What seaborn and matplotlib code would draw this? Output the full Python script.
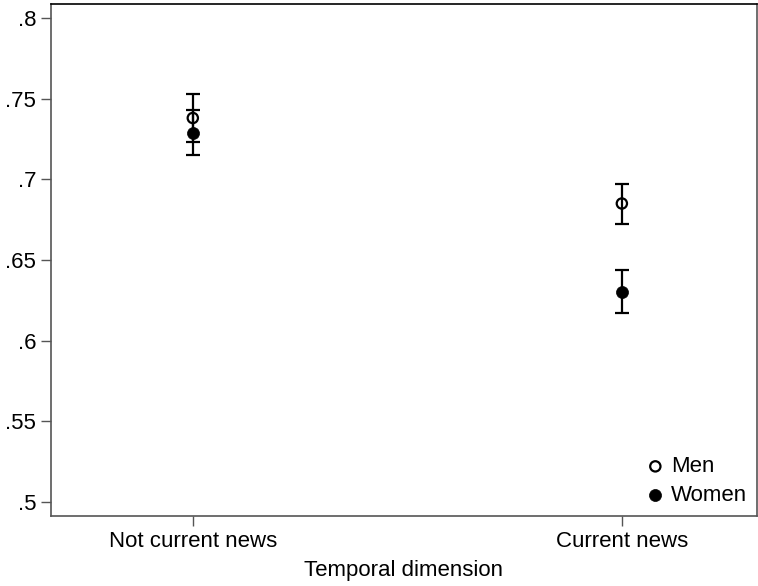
import pandas as pd
import matplotlib.pyplot as plt
import seaborn as sns

categories = ["Not current news", "Current news"]
men_mean = [0.738, 0.685]
men_low = [0.723, 0.672]
men_high = [0.753, 0.697]
women_mean = [0.729, 0.630]
women_low = [0.715, 0.617]
women_high = [0.743, 0.644]

def build_frame():
    rows = []
    for i, cat in enumerate(categories):
        rows.append(dict(pos=i, group="Men", mean=men_mean[i], low=men_low[i], high=men_high[i]))
        rows.append(dict(pos=i, group="Women", mean=women_mean[i], low=women_low[i], high=women_high[i]))
    return pd.DataFrame(rows)

def main():
    sns.set_theme(style="white")
    plt.rcParams["font.family"] = ["Liberation Sans", "DejaVu Sans"]
    plt.rcParams["text.color"] = "black"
    plt.rcParams["axes.labelcolor"] = "black"
    df = build_frame()

    fig = plt.figure(figsize=(7.58, 5.86), dpi=100)
    ax = fig.add_axes([0.067, 0.1195, 0.9317, 0.8732])

    for _, r in df.iterrows():
        ax.errorbar(r["pos"], r["mean"],
                    yerr=[[r["mean"] - r["low"]], [r["high"] - r["mean"]]],
                    fmt="none", ecolor="black", elinewidth=1.6, capsize=5, capthick=1.6, zorder=2)

    sns.scatterplot(data=df[df["group"] == "Men"], x="pos", y="mean", ax=ax, marker="o",
                    s=55, facecolor="none", edgecolor="black", linewidth=1.6, label="Men", zorder=3)
    sns.scatterplot(data=df[df["group"] == "Women"], x="pos", y="mean", ax=ax, marker="o",
                    s=75, color="black", edgecolor="black", linewidth=0.5, label="Women", zorder=3)

    ax.set_xlim(-0.331, 1.315)
    ax.set_ylim(0.4913, 0.8085)
    ax.set_xticks([0, 1])
    ax.set_xticklabels(categories)
    yt = [0.5, 0.55, 0.6, 0.65, 0.7, 0.75, 0.8]
    ax.set_yticks(yt)
    ax.set_yticklabels([f"{v:g}".lstrip("0") for v in yt])
    ax.tick_params(axis="both", labelsize=16, length=7, width=1, color="#555555",
                   labelcolor="black", left=True, bottom=True)
    ax.set_xlabel("Temporal dimension", fontsize=16, labelpad=6, color="black")
    ax.set_ylabel("")
    for s in ax.spines.values():
        s.set_color("#555555")
        s.set_linewidth(1.2)
    ax.spines["top"].set_color("black")

    ax.legend(loc="lower right", frameon=False, fontsize=16, handletextpad=0.3,
              borderaxespad=0.05, labelspacing=0.35, handlelength=0.8)
    fig.savefig("out.png", dpi=100)
    plt.close(fig)

if __name__ == "__main__":
    main()
